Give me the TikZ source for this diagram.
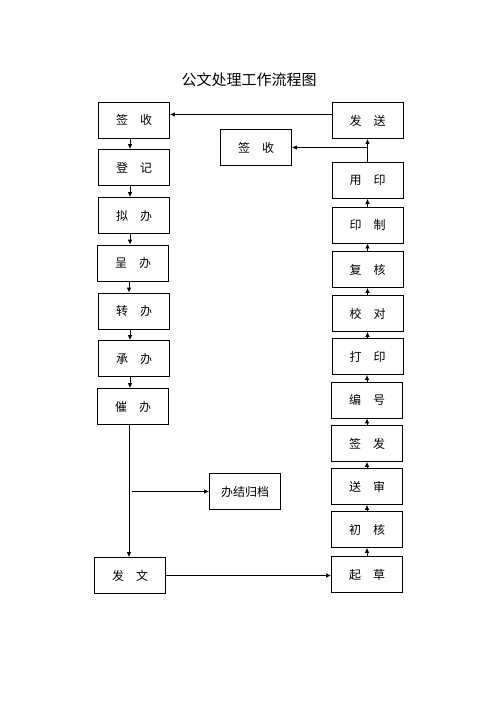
\documentclass[tikz,border=0pt]{standalone}
\usepackage{fontspec}
\newfontfamily\cjk{Noto Sans CJK SC}
\usetikzlibrary{positioning,arrows.meta,calc}

\begin{document}
\begin{tikzpicture}[
  x=1pt, y=-1pt,
  >={Latex[length=5pt,width=4.5pt]},
  blk/.style={draw, line width=0.8pt, minimum width=71pt, minimum height=36pt,
              inner sep=0pt, font=\cjk\fontsize{12}{14}\selectfont},
  lnk/.style={->, line width=0.8pt},
  ttl/.style={font=\cjk\fontsize{15}{18}\selectfont}]
  \useasboundingbox (0,0) rectangle (496,702);
  \node[ttl] (title) at (249,80) {公文处理工作流程图};
  % left column -- receiving
  \node[blk] (qs1)  at (134,120)   {签\quad 收};
  \node[blk] (dj)   at (134,167.5) {登\quad 记};
  \node[blk] (nb)   at (134,215.5) {拟\quad 办};
  \node[blk] (cb)   at (133,263)   {呈\quad 办};
  \node[blk] (zb)   at (134,311)   {转\quad 办};
  \node[blk] (chb)  at (134,358.5) {承\quad 办};
  \node[blk] (cuib) at (133,406.5) {催\quad 办};
  \node[blk] (fw)   at (130,575.5) {发\quad 文};
  \node[blk] (bjgd) at (245,491.5) {办结归档};
  % right column -- issuing
  \node[blk] (fs)  at (367.5,120.5) {发\quad 送};
  \node[blk] (qs2) at (256,147.5)   {签\quad 收};
  \node[blk] (yy)  at (367.5,180.5) {用\quad 印};
  \node[blk] (yz)  at (367.5,225)   {印\quad 制};
  \node[blk] (fh)  at (367.5,269.5) {复\quad 核};
  \node[blk] (jd)  at (367.5,313.5) {校\quad 对};
  \node[blk] (dy)  at (367.5,356.5) {打\quad 印};
  \node[blk] (bh)  at (367,400)     {编\quad 号};
  \node[blk] (qf)  at (367,443.5)   {签\quad 发};
  \node[blk] (ss)  at (367,486.5)   {送\quad 审};
  \node[blk] (ch)  at (367,529.5)   {初\quad 核};
  \node[blk] (qc)  at (367,574.5)   {起\quad 草};
  % arrows
  \foreach \a/\b in {qs1/dj, dj/nb, nb/cb, cb/zb, zb/chb, chb/cuib, cuib/fw}
    \draw[lnk] ([xshift=-4pt]\a.south) -- ([xshift=-4pt]\a.south |- \b.north);
  \foreach \a/\b in {qc/ch, ch/ss, ss/qf, qf/bh, bh/dy, dy/jd, jd/fh, fh/yz, yz/yy, yy/fs}
    \draw[lnk] (\a.north) -- (\a.north |- \b.south);
  \draw[lnk] ([yshift=6pt]fs.west) -- ([yshift=6pt]fs.west -| qs1.east);
  \draw[lnk] (yy.north |- qs2.east) -- (qs2.east);
  \draw[lnk] ([xshift=2pt]fw.north |- bjgd.west) -- (bjgd.west);
  \draw[lnk] (fw.east) -- (fw.east -| qc.west);
\end{tikzpicture}
\end{document}
